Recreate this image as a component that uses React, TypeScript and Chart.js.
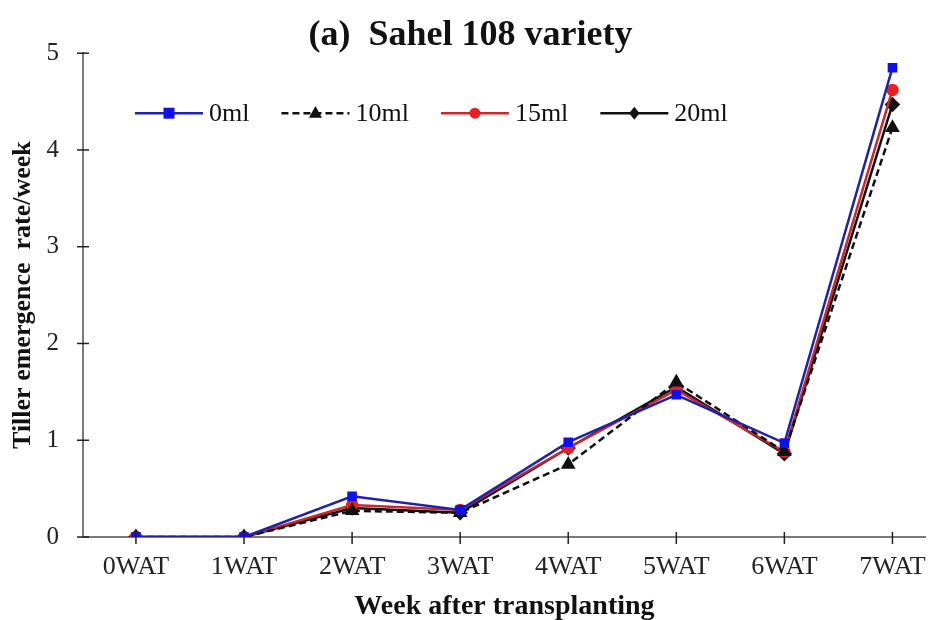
import React, { useEffect, useRef } from "react";
import { Chart, registerables } from "chart.js";

Chart.register(...registerables);

const categories = ["0WAT", "1WAT", "2WAT", "3WAT", "4WAT", "5WAT", "6WAT", "7WAT"];
const seriesNames = ["0ml", "10ml", "15ml", "20ml"];
const values0ml = [0, 0, 0.42, 0.28, 0.98, 1.47, 0.97, 4.85];
const values10ml = [0, 0, 0.27, 0.25, 0.75, 1.6, 0.88, 4.23];
const values15ml = [0, 0, 0.33, 0.28, 0.92, 1.52, 0.88, 4.62];
const values20ml = [0, 0, 0.3, 0.25, 0.92, 1.55, 0.86, 4.47];
const yTicks = [0, 1, 2, 3, 4, 5];

const FONT = "'Liberation Serif', 'Times New Roman', serif";

function drawMarker(ctx: CanvasRenderingContext2D, style: string, x: number, y: number, r: number, color: string) {
  ctx.save();
  ctx.fillStyle = color;
  ctx.strokeStyle = color;
  ctx.beginPath();
  if (style === "rect") {
    ctx.rect(x - r, y - r, 2 * r, 2 * r);
  } else if (style === "triangle") {
    ctx.moveTo(x, y - r * 1.1);
    ctx.lineTo(x + r, y + r * 0.7);
    ctx.lineTo(x - r, y + r * 0.7);
    ctx.closePath();
  } else if (style === "circle") {
    ctx.arc(x, y, r, 0, Math.PI * 2);
  } else {
    ctx.moveTo(x, y - r);
    ctx.lineTo(x + r * 0.8, y);
    ctx.lineTo(x, y + r);
    ctx.lineTo(x - r * 0.8, y);
    ctx.closePath();
  }
  ctx.fill();
  ctx.restore();
}

const legendPlugin = {
  id: "insideLegend",
  afterDraw(chart: any) {
    const ctx = chart.ctx as CanvasRenderingContext2D;
    const area = chart.chartArea;
    let x = area.left + 52;
    const y = area.top + 60;
    const lineLen = 68;
    ctx.save();
    ctx.font = `26px ${FONT}`;
    ctx.textBaseline = "middle";
    chart.data.datasets.forEach((ds: any) => {
      ctx.save();
      ctx.strokeStyle = ds.borderColor;
      ctx.lineWidth = 2.5;
      ctx.setLineDash(ds.borderDash || []);
      ctx.beginPath();
      ctx.moveTo(x, y);
      ctx.lineTo(x + lineLen, y);
      ctx.stroke();
      ctx.restore();
      drawMarker(ctx, ds.pointStyle, x + lineLen / 2, y, ds.pointRadius + 0.5, ds.pointBackgroundColor);
      ctx.fillStyle = "#111";
      ctx.fillText(ds.label, x + lineLen + 6, y + 1);
      x += lineLen + 6 + ctx.measureText(ds.label).width + 32;
    });
    ctx.restore();
  },
};

const crossTicksPlugin = {
  id: "crossTicks",
  afterDraw(chart: any) {
    const ctx = chart.ctx as CanvasRenderingContext2D;
    const xs = chart.scales.x;
    const ys = chart.scales.y;
    const area = chart.chartArea;
    ctx.save();
    ctx.strokeStyle = "#222";
    ctx.lineWidth = 1.5;
    ys.ticks.forEach((t: any) => {
      const py = ys.getPixelForValue(t.value);
      ctx.beginPath();
      ctx.moveTo(area.left - 6, py);
      ctx.lineTo(area.left + 6, py);
      ctx.stroke();
    });
    xs.ticks.forEach((t: any) => {
      const px = xs.getPixelForValue(t.value);
      ctx.beginPath();
      ctx.moveTo(px, area.bottom - 5);
      ctx.lineTo(px, area.bottom + 7);
      ctx.stroke();
    });
    ctx.restore();
  },
};

export default function App() {
  const ref = useRef<HTMLCanvasElement | null>(null);
  useEffect(() => {
    if (!ref.current) return;
    const mk = (vals: number[]) => vals.map((v, i) => ({ x: i, y: v }));
    const chart = new Chart(ref.current, {
      type: "line",
      data: {
        datasets: [
          {
            label: seriesNames[0],
            data: mk(values0ml),
            borderColor: "#2222a8",
            backgroundColor: "#1010ee",
            pointBackgroundColor: "#1010ee",
            pointBorderColor: "#1010ee",
            pointStyle: "rect",
            pointRadius: 5,
            borderWidth: 2.5,
          },
          {
            label: seriesNames[1],
            data: mk(values10ml),
            borderColor: "#111111",
            backgroundColor: "#111111",
            pointBackgroundColor: "#111111",
            pointBorderColor: "#111111",
            pointStyle: "triangle",
            pointRadius: 6,
            borderWidth: 2.5,
            borderDash: [7, 4],
          },
          {
            label: seriesNames[2],
            data: mk(values15ml),
            borderColor: "#c8282e",
            backgroundColor: "#e82020",
            pointBackgroundColor: "#e82020",
            pointBorderColor: "#e82020",
            pointStyle: "circle",
            pointRadius: 5,
            borderWidth: 2.5,
          },
          {
            label: seriesNames[3],
            data: mk(values20ml),
            borderColor: "#111111",
            backgroundColor: "#111111",
            pointBackgroundColor: "#111111",
            pointBorderColor: "#111111",
            pointStyle: "rectRot",
            pointRadius: 6,
            borderWidth: 2.5,
          },
        ],
      },
      options: {
        animation: false,
        responsive: false,
        layout: { padding: 0 },
        plugins: {
          legend: { display: false },
          tooltip: { enabled: false },
          title: {
            display: true,
            text: "(a)  Sahel 108 variety",
            color: "#111",
            font: { family: FONT, size: 36, weight: "bold" },
            padding: { top: 14, bottom: -4 },
          },
        },
        scales: {
          x: {
            type: "linear",
            min: -0.49,
            max: 7.31,
            afterBuildTicks: (s: any) => {
              s.ticks = categories.map((_, i) => ({ value: i }));
            },
            afterFit: (s: any) => {
              s.height = 83;
            },
            ticks: {
              callback: (v: any) => categories[Math.round(Number(v))] ?? "",
              color: "#222",
              font: { family: FONT, size: 26 },
              padding: 15,
              maxRotation: 0,
              autoSkip: false,
            },
            grid: { display: false, drawTicks: false },
            border: { display: true, color: "#7a7a7a", width: 2 },
            title: {
              display: true,
              text: "Week after transplanting",
              color: "#111",
              font: { family: FONT, size: 28, weight: "bold" },
              padding: { top: 0, bottom: -4 },
            },
          },
          y: {
            min: 0,
            max: 5,
            afterBuildTicks: (s: any) => {
              s.ticks = yTicks.map((v) => ({ value: v }));
            },
            afterFit: (s: any) => {
              s.width = 83;
            },
            ticks: {
              color: "#222",
              font: { family: FONT, size: 25 },
              padding: 24,
            },
            grid: { display: false, drawTicks: false },
            border: { display: true, color: "#7a7a7a", width: 2 },
            title: {
              display: true,
              text: "Tiller emergence  rate/week",
              color: "#111",
              font: { family: FONT, size: 26, weight: "bold" },
              padding: { top: 8, bottom: 0 },
            },
          },
        },
      },
      plugins: [legendPlugin, crossTicksPlugin],
    });
    return () => chart.destroy();
  }, []);
  return (
    <div style={{ position: "absolute", left: 0, top: 0, width: 941, height: 620, background: "#fff" }}>
      <canvas ref={ref} width={941} height={620} />
    </div>
  );
}
